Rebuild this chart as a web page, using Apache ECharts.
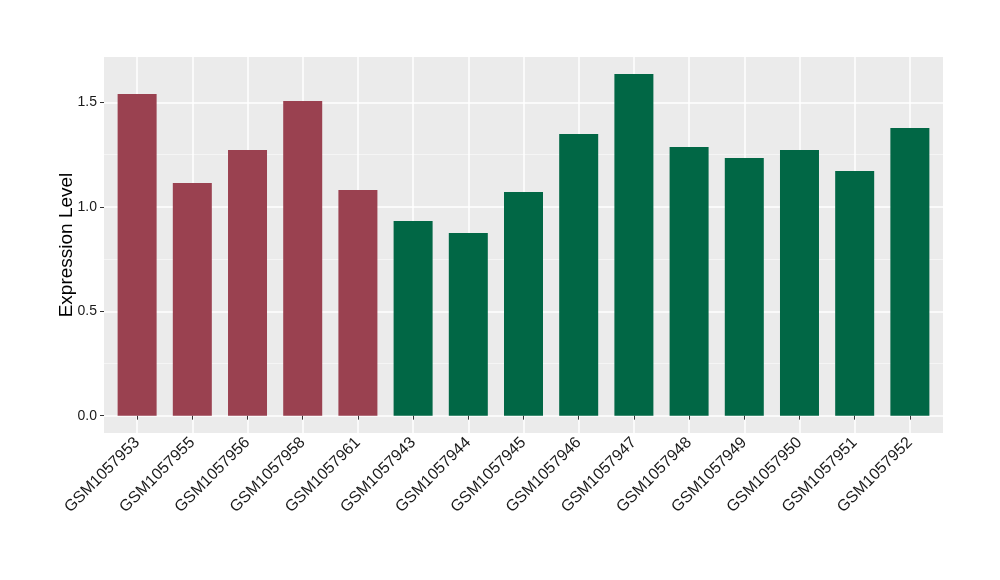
<!DOCTYPE html>
<html>
<head>
<meta charset="utf-8">
<script src="https://cdn.jsdelivr.net/npm/echarts@6/dist/echarts.min.js"></script>
<style>html,body{margin:0;padding:0;background:#fff}#c{width:1000px;height:580px}</style>
</head>
<body>
<div id="c"></div>
<script>
const categories = ['GSM1057953','GSM1057955','GSM1057956','GSM1057958','GSM1057961','GSM1057943','GSM1057944','GSM1057945','GSM1057946','GSM1057947','GSM1057948','GSM1057949','GSM1057950','GSM1057951','GSM1057952'];
const values = [1.541, 1.114, 1.272, 1.507, 1.081, 0.932, 0.875, 1.071, 1.349, 1.636, 1.287, 1.234, 1.272, 1.172, 1.378];
const groups = ['A','A','A','A','A','B','B','B','B','B','B','B','B','B','B'];
const groupColors = {A: '#9A4150', B: '#016745'};
const yTicks = [0, 0.5, 1.0, 1.5];

// category positions 1..n on a continuous axis (ggplot discrete expansion 0.6)
const xPos = categories.map((c, i) => i + 1);

const chart = echarts.init(document.getElementById('c'), null, {renderer: 'canvas'});
const font = 'Liberation Sans, Arial, sans-serif';
chart.setOption({
  animation: false,
  grid: {left: 104, right: 57, top: 57, bottom: 147, show: true, backgroundColor: '#EBEBEB', borderWidth: 0},
  xAxis: {
    type: 'value',
    min: 0.4, max: categories.length + 0.6,
    minInterval: 1, maxInterval: 1,
    axisLine: {show: false},
    axisTick: {show: true, customValues: xPos, length: 4, lineStyle: {color: '#333333', width: 1}},
    splitLine: {show: true, lineStyle: {color: '#FFFFFF', width: 1.5}},
    axisLabel: {
      customValues: xPos,
      rotate: 45, fontSize: 16, color: '#1A1A1A', fontFamily: font, margin: 7,
      showMinLabel: true, showMaxLabel: true,
      formatter: function (v) { return categories[Math.round(v) - 1] || ''; }
    }
  },
  yAxis: {
    type: 'value',
    min: -0.083, max: 1.718,
    minInterval: 0.5, maxInterval: 0.5,
    name: 'Expression Level',
    nameLocation: 'middle',
    nameGap: 28,
    nameMoveOverlap: false,
    nameTextStyle: {fontSize: 19, color: '#000000', fontFamily: font},
    axisLine: {show: false},
    axisTick: {show: true, customValues: yTicks, length: 4, lineStyle: {color: '#333333', width: 1}},
    minorTick: {show: false, splitNumber: 2},
    splitLine: {show: true, lineStyle: {color: '#FFFFFF', width: 1.5}},
    minorSplitLine: {show: true, lineStyle: {color: '#F7F7F7', width: 0.8}},
    axisLabel: {
      customValues: yTicks,
      fontSize: 14, color: '#1A1A1A', fontFamily: font, margin: 7,
      formatter: function (v) { return v.toFixed(1); }
    }
  },
  series: [{
    type: 'bar',
    data: values.map((v, i) => ({value: [xPos[i], v], itemStyle: {color: groupColors[groups[i]]}})),
    barWidth: 39
  }]
});
</script>
</body>
</html>
